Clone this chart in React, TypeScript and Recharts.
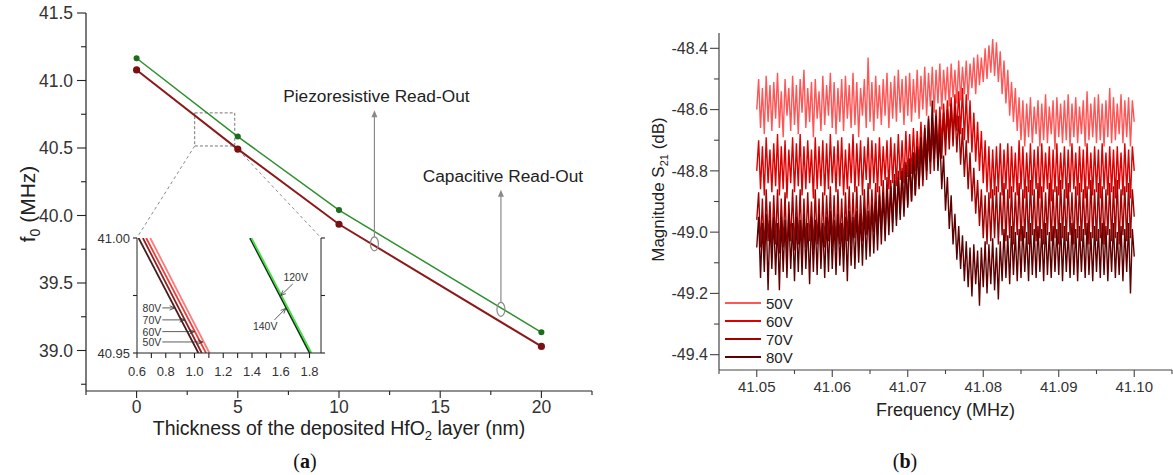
import React from 'react';
import {
  LineChart,
  Line,
  XAxis,
  YAxis,
  Legend,
  ReferenceArea,
  ReferenceLine,
  ReferenceDot,
} from 'recharts';

const SANS = '"Liberation Sans", Arial, Helvetica, sans-serif';
const SERIF = '"Liberation Serif", "Times New Roman", serif';

// ---------- (a) resonance frequency vs HfO2 thickness ----------
const thickness = [0, 5, 10, 20];
const f0Green = [41.165, 40.585, 40.04, 39.135];
const f0Red = [41.078, 40.492, 39.935, 39.03];

const thickTicks = [-2.5, 0, 2.5, 5, 7.5, 10, 12.5, 15, 17.5, 20, 22.5];
const thickLabels = [0, 5, 10, 15, 20];
const f0Ticks = [38.75, 39, 39.25, 39.5, 39.75, 40, 40.25, 40.5, 40.75, 41, 41.25, 41.5];
const f0Labels = [39, 39.5, 40, 40.5, 41, 41.5];

// read-out annotations (thickness, ellipse centre, arrow base, arrow tip)
const readOutNames = ['Piezoresistive Read-Out', 'Capacitive Read-Out'];
const readOutX = [11.75, 18];
const readOutEllipseY = [39.79, 39.305];
const readOutBaseY = [39.84, 39.36];
const readOutTipY = [40.78, 40.19];

// zoom box shown by the inset
const zoomBoxX = [2.87, 4.85];
const zoomBoxY = [40.515, 40.76];
const insetCornerX = [0.02, 9.1];
const insetCornerY = 39.836;

// ---------- inset ----------
const insetEnds = [41.0, 40.95];
const insetXTicks = [0.6, 0.7, 0.8, 0.9, 1.0, 1.1, 1.2, 1.3, 1.4, 1.5, 1.6, 1.7, 1.8];
const insetXLabels = [0.6, 0.8, 1.0, 1.2, 1.4, 1.6, 1.8];
const insetYTicks = [40.95, 40.975, 41.0];
const insetYLabels = [40.95, 41.0];

const insetRedNames = ['80V', '70V', '60V', '50V'];
const insetRedColors = ['#4a1c1c', '#8b2323', '#e8403a', '#ff7a7a'];
const insetRedTop = [0.611, 0.641, 0.664, 0.692];
const insetRedBottom = [1.027, 1.05, 1.08, 1.104];
const insetRedTagY = [40.9696, 40.9644, 40.9593, 40.9548];
const insetRedTagTip = [0.862, 0.931, 1.0, 1.058];
const insetRedTagStart = 0.776;

const insetGreenNames = ['140V', '120V'];
const insetGreenColors = ['#1c2e1c', '#45dd45'];
const insetGreenTop = [1.386, 1.396];
const insetGreenBottom = [1.801, 1.813];

// ---------- (b) transmission spectra ----------
const freqStart = 41.05;
const freqStep = 0.00025;
const freqTicks = [41.045, 41.05, 41.055, 41.06, 41.065, 41.07, 41.075, 41.08, 41.085, 41.09, 41.095, 41.1, 41.105];
const freqLabels = [41.05, 41.06, 41.07, 41.08, 41.09, 41.1];
const magTicks = [-49.4, -49.3, -49.2, -49.1, -49.0, -48.9, -48.8, -48.7, -48.6, -48.5, -48.4];
const magLabels = [-49.4, -49.2, -49.0, -48.8, -48.6, -48.4];

const voltages = ['50V', '60V', '70V', '80V'];
const voltColors = ['#ff5555', '#dd0000', '#a30000', '#5e0000'];

const mag50 = [
  -48.60, -48.50, -48.66, -48.53, -48.68, -48.49, -48.64, -48.52, -48.67, -48.51,
  -48.63, -48.48, -48.66, -48.54, -48.69, -48.50, -48.62, -48.53, -48.67, -48.49,
  -48.65, -48.52, -48.68, -48.50, -48.61, -48.47, -48.66, -48.53, -48.64, -48.51,
  -48.69, -48.50, -48.63, -48.54, -48.67, -48.49, -48.65, -48.52, -48.62, -48.48,
  -48.66, -48.51, -48.68, -48.53, -48.64, -48.50, -48.67, -48.49, -48.63, -48.52,
  -48.66, -48.48, -48.65, -48.51, -48.69, -48.53, -48.62, -48.50, -48.66, -48.43,
  -48.64, -48.51, -48.67, -48.49, -48.63, -48.52, -48.65, -48.50, -48.62, -48.48,
  -48.66, -48.51, -48.63, -48.49, -48.64, -48.47, -48.61, -48.50, -48.65, -48.49,
  -48.62, -48.48, -48.64, -48.50, -48.61, -48.47, -48.63, -48.49, -48.60, -48.46,
  -48.62, -48.48, -48.59, -48.46, -48.61, -48.47, -48.58, -48.45, -48.60, -48.47,
  -48.57, -48.46, -48.59, -48.45, -48.56, -48.47, -48.58, -48.44, -48.57, -48.46,
  -48.55, -48.44, -48.57, -48.45, -48.53, -48.43, -48.55, -48.42, -48.52, -48.43,
  -48.51, -48.40, -48.50, -48.39, -48.48, -48.37, -48.49, -48.38, -48.51, -48.41,
  -48.55, -48.44, -48.58, -48.47, -48.62, -48.51, -48.64, -48.53, -48.67, -48.56,
  -48.70, -48.57, -48.72, -48.58, -48.69, -48.56, -48.71, -48.59, -48.68, -48.57,
  -48.72, -48.58, -48.70, -48.55, -48.71, -48.59, -48.68, -48.57, -48.73, -48.56,
  -48.69, -48.58, -48.71, -48.57, -48.70, -48.55, -48.72, -48.58, -48.69, -48.56,
  -48.71, -48.59, -48.68, -48.57, -48.72, -48.54, -48.70, -48.58, -48.69, -48.56,
  -48.71, -48.55, -48.70, -48.58, -48.72, -48.57, -48.69, -48.53, -48.71, -48.56,
  -48.70, -48.58, -48.68, -48.55, -48.71, -48.57, -48.69, -48.56, -48.72, -48.57,
  -48.64,
];

const mag60 = [
  -48.80, -48.70, -48.86, -48.72, -48.88, -48.69, -48.84, -48.73, -48.87, -48.71,
  -48.85, -48.68, -48.88, -48.72, -48.86, -48.70, -48.89, -48.73, -48.84, -48.69,
  -48.87, -48.71, -48.85, -48.68, -48.88, -48.72, -48.86, -48.70, -48.84, -48.73,
  -48.89, -48.69, -48.86, -48.72, -48.85, -48.70, -48.88, -48.71, -48.86, -48.68,
  -48.84, -48.72, -48.87, -48.70, -48.85, -48.69, -48.88, -48.73, -48.86, -48.71,
  -48.84, -48.68, -48.87, -48.71, -48.85, -48.70, -48.88, -48.72, -48.83, -48.69,
  -48.86, -48.70, -48.84, -48.71, -48.87, -48.69, -48.85, -48.72, -48.83, -48.70,
  -48.86, -48.69, -48.84, -48.71, -48.85, -48.68, -48.83, -48.70, -48.84, -48.67,
  -48.82, -48.68, -48.81, -48.66, -48.80, -48.67, -48.78, -48.64, -48.79, -48.65,
  -48.76, -48.62, -48.75, -48.63, -48.73, -48.60, -48.74, -48.59, -48.71, -48.58,
  -48.70, -48.57, -48.68, -48.56, -48.69, -48.55, -48.67, -48.54, -48.68, -48.53,
  -48.70, -48.55, -48.71, -48.57, -48.74, -48.61, -48.77, -48.64, -48.80, -48.67,
  -48.84, -48.70, -48.87, -48.72, -48.89, -48.73, -48.88, -48.72, -48.87, -48.71,
  -48.88, -48.73, -48.86, -48.71, -48.89, -48.72, -48.87, -48.74, -48.88, -48.70,
  -48.86, -48.72, -48.89, -48.74, -48.87, -48.71, -48.88, -48.73, -48.86, -48.72,
  -48.89, -48.71, -48.87, -48.74, -48.86, -48.72, -48.90, -48.73, -48.87, -48.71,
  -48.88, -48.74, -48.86, -48.72, -48.89, -48.73, -48.87, -48.71, -48.86, -48.74,
  -48.88, -48.72, -48.87, -48.73, -48.89, -48.71, -48.86, -48.74, -48.88, -48.72,
  -48.87, -48.73, -48.89, -48.71, -48.86, -48.74, -48.88, -48.72, -48.87, -48.73,
  -48.89, -48.72, -48.86, -48.74, -48.88, -48.71, -48.87, -48.73, -48.89, -48.72,
  -48.80,
];

const mag70 = [
  -48.96, -48.87, -49.05, -48.89, -49.07, -48.86, -49.03, -48.90, -49.06, -48.88,
  -49.04, -48.86, -49.07, -48.89, -49.05, -48.87, -49.08, -48.90, -49.03, -48.86,
  -49.06, -48.88, -49.04, -48.86, -49.07, -48.89, -49.05, -48.87, -49.03, -48.90,
  -49.06, -48.86, -49.04, -48.89, -49.07, -48.87, -49.05, -48.88, -49.03, -48.85,
  -49.05, -48.88, -49.06, -48.86, -49.04, -48.89, -49.06, -48.87, -49.03, -48.85,
  -49.04, -48.87, -49.02, -48.85, -49.05, -48.88, -49.03, -48.86, -49.01, -48.84,
  -49.02, -48.86, -49.00, -48.84, -49.01, -48.85, -48.99, -48.83, -49.00, -48.82,
  -48.98, -48.83, -48.97, -48.81, -48.96, -48.80, -48.94, -48.79, -48.93, -48.77,
  -48.91, -48.76, -48.90, -48.74, -48.88, -48.73, -48.86, -48.71, -48.85, -48.70,
  -48.83, -48.68, -48.81, -48.66, -48.80, -48.65, -48.78, -48.63, -48.76, -48.61,
  -48.75, -48.60, -48.73, -48.58, -48.72, -48.59, -48.74, -48.62, -48.78, -48.66,
  -48.82, -48.70, -48.86, -48.74, -48.90, -48.79, -48.94, -48.83, -48.98, -48.86,
  -49.02, -48.88, -49.04, -48.87, -49.03, -48.86, -49.02, -48.85, -49.04, -48.87,
  -49.01, -48.84, -49.03, -48.86, -49.02, -48.85, -49.04, -48.87, -49.01, -48.84,
  -49.03, -48.86, -49.02, -48.85, -49.04, -48.83, -49.01, -48.86, -49.03, -48.84,
  -49.02, -48.85, -49.04, -48.87, -49.01, -48.84, -49.03, -48.86, -49.02, -48.85,
  -49.04, -48.83, -49.02, -48.86, -49.03, -48.84, -49.01, -48.87, -49.04, -48.85,
  -49.02, -48.84, -49.03, -48.86, -49.01, -48.85, -49.04, -48.83, -49.02, -48.86,
  -49.03, -48.84, -49.02, -48.85, -49.04, -48.86, -49.01, -48.84, -49.03, -48.85,
  -49.02, -48.83, -49.04, -48.86, -49.01, -48.85, -49.03, -48.84, -49.02, -48.86,
  -48.95,
];

const mag80 = [
  -49.05, -48.95, -49.15, -48.97, -49.13, -48.94, -49.19, -48.96, -49.12, -48.95,
  -49.14, -48.97, -49.19, -48.95, -49.13, -48.96, -49.15, -48.94, -49.12, -48.97,
  -49.16, -48.95, -49.13, -48.96, -49.14, -48.94, -49.12, -48.97, -49.17, -48.95,
  -49.13, -48.96, -49.14, -48.94, -49.12, -48.97, -49.15, -48.95, -49.13, -48.93,
  -49.12, -48.96, -49.14, -48.94, -49.11, -48.97, -49.13, -48.95, -49.16, -48.93,
  -49.11, -48.95, -49.12, -48.93, -49.10, -48.94, -49.11, -48.92, -49.09, -48.93,
  -49.08, -48.91, -49.07, -48.90, -49.06, -48.88, -49.04, -48.87, -49.03, -48.86,
  -49.01, -48.85, -49.00, -48.83, -48.98, -48.82, -48.96, -48.80, -48.95, -48.78,
  -48.92, -48.76, -48.90, -48.74, -48.88, -48.72, -48.85, -48.69, -48.83, -48.66,
  -48.80, -48.63, -48.77, -48.57, -48.76, -48.62, -48.80, -48.68, -48.86, -48.75,
  -48.93, -48.82, -48.99, -48.88, -49.04, -48.94, -49.09, -48.98, -49.12, -49.01,
  -49.16, -49.03, -49.18, -49.05, -49.21, -49.04, -49.17, -49.06, -49.24, -49.05,
  -49.18, -49.03, -49.20, -49.04, -49.17, -49.02, -49.19, -49.05, -49.22, -49.03,
  -49.16, -48.99, -49.15, -49.01, -49.17, -48.98, -49.14, -49.00, -49.16, -48.99,
  -49.15, -48.98, -49.13, -49.00, -49.16, -48.97, -49.14, -48.99, -49.15, -48.98,
  -49.13, -48.99, -49.16, -48.97, -49.14, -49.00, -49.15, -48.98, -49.13, -48.99,
  -49.14, -48.97, -49.16, -48.98, -49.13, -49.00, -49.15, -48.97, -49.14, -48.99,
  -49.16, -48.98, -49.13, -48.99, -49.15, -48.97, -49.14, -49.00, -49.16, -48.98,
  -49.13, -48.99, -49.15, -48.97, -49.14, -48.98, -49.16, -48.99, -49.13, -48.97,
  -49.15, -49.00, -49.14, -48.98, -49.16, -48.99, -49.13, -48.97, -49.20, -48.99,
  -49.08,
];

// tables for the charts
const thicknessData = thickness.map((t, i) => ({ t, green: f0Green[i], red: f0Red[i] }));
const spectrumData = mag50.map((v, i) => ({
  f: freqStart + i * freqStep,
  v50: v,
  v60: mag60[i],
  v70: mag70[i],
  v80: mag80[i],
}));

// generic tick: short line (major/minor) plus optional label, drawn from the axis line
function AxisTick(props: any) {
  const {
    x = 0, y = 0, payload, side, inward = false, majors = [], fmt,
    len = 8, minorLen = 4, gap = 4, fontSize = 14, color = '#333', stroke = '#333',
  } = props;
  const v = payload ? payload.value : 0;
  const isMajor = majors.some((m: number) => Math.abs(m - v) < 1e-7);
  const l = isMajor ? len : minorLen;
  const s = inward ? -1 : 1;
  let x2 = x;
  let y2 = y;
  if (side === 'bottom') y2 = y + l * s;
  if (side === 'top') y2 = y - l * s;
  if (side === 'left') x2 = x - l * s;
  if (side === 'right') x2 = x + l * s;
  let label = null;
  if (fmt && isMajor) {
    if (side === 'bottom') {
      label = (
        <text x={x} y={y + l + gap + fontSize * 0.72} textAnchor="middle" fontSize={fontSize} fontFamily={SANS} fill={color}>
          {fmt(v)}
        </text>
      );
    } else if (side === 'left') {
      label = (
        <text x={x - l - gap} y={y + fontSize * 0.36} textAnchor="end" fontSize={fontSize} fontFamily={SANS} fill={color}>
          {fmt(v)}
        </text>
      );
    }
  }
  return (
    <g>
      <line x1={x} y1={y} x2={x2} y2={y2} stroke={stroke} strokeWidth={1.1} />
      {label}
    </g>
  );
}

function ThickTitle({ viewBox }: any) {
  const { x, y, width } = viewBox;
  return (
    <text x={x + width / 2} y={y + 44} textAnchor="middle" fontSize={19.5} fontFamily={SANS} fill="#222">
      Thickness of the deposited HfO<tspan dy={5} fontSize={13}>2</tspan>
      <tspan dy={-5}> layer (nm)</tspan>
    </text>
  );
}

function F0Title({ viewBox }: any) {
  const cx = viewBox.x + 27;
  const cy = viewBox.y + viewBox.height / 2 + 2;
  return (
    <text x={cx} y={cy} dy="0.36em" transform={`rotate(-90, ${cx}, ${cy})`} textAnchor="middle" fontSize={21} fontFamily={SANS} fill="#222">
      f<tspan dy={5} fontSize={14}>0</tspan>
      <tspan dy={-5}> (MHz)</tspan>
    </text>
  );
}

function FreqTitle({ viewBox }: any) {
  const { x, y, width } = viewBox;
  return (
    <text x={x + width / 2} y={y + 46} textAnchor="middle" fontSize={18} fontFamily={SANS} fill="#222">
      Frequency (MHz)
    </text>
  );
}

function MagTitle({ viewBox }: any) {
  const cx = viewBox.x + 18;
  const cy = viewBox.y + viewBox.height / 2 - 12;
  return (
    <text x={cx} y={cy} dy="0.36em" transform={`rotate(-90, ${cx}, ${cy})`} textAnchor="middle" fontSize={17} fontFamily={SANS} fill="#222">
      Magnitude S<tspan dy={4} fontSize={11}>21</tspan>
      <tspan dy={-4}> (dB)</tspan>
    </text>
  );
}

// vertical arrow with its caption above the tip
function ReadOutArrow(props: any) {
  const { x1, y1, y2, txt } = props;
  const tip = Math.min(y1, y2);
  const base = Math.max(y1, y2);
  return (
    <g>
      <line x1={x1} y1={base} x2={x1} y2={tip + 5} stroke="#8a8a8a" strokeWidth={1.2} />
      <path d={`M${x1},${tip} L${x1 - 3},${tip + 7} L${x1 + 3},${tip + 7} Z`} fill="#8a8a8a" />
      <text x={x1 + 2} y={tip - 8} textAnchor="middle" fontSize={17.3} fontFamily={SANS} fill="#222">
        {txt}
      </text>
    </g>
  );
}

// small labelled arrow of the inset
function TagArrow(props: any) {
  const { x1, y1, x2, y2, txt, tx, ty, anchor } = props;
  const dx = x2 - x1;
  const dy = y2 - y1;
  const len = Math.hypot(dx, dy) || 1;
  const ux = dx / len;
  const uy = dy / len;
  const hx = x2 - ux * 5;
  const hy = y2 - uy * 5;
  return (
    <g>
      <line x1={x1} y1={y1} x2={x2} y2={y2} stroke="#333" strokeWidth={0.8} />
      <path
        d={`M${hx - uy * 2.2},${hy + ux * 2.2} L${x2},${y2} L${hx + uy * 2.2},${hy - ux * 2.2}`}
        fill="none"
        stroke="#333"
        strokeWidth={0.8}
      />
      <text x={x1 + tx} y={y1 + ty} textAnchor={anchor} fontSize={10.5} fontFamily={SANS} fill="#333">
        {txt}
      </text>
    </g>
  );
}

function VoltLegend(props: any) {
  const items = props.payload || [];
  return (
    <div style={{ fontFamily: SANS, fontSize: 15, color: '#222' }}>
      {items.map((it: any) => (
        <div key={it.value} style={{ display: 'flex', alignItems: 'center', height: 18 }}>
          <span style={{ display: 'inline-block', width: 36, height: 2, background: it.color, marginRight: 5 }} />
          <span>{it.value}</span>
        </div>
      ))}
    </div>
  );
}

const AX_A = '#222';
const AX_B = '#444';

function PanelA() {
  return (
    <div style={{ position: 'absolute', left: 0, top: 0 }}>
      <LineChart width={600} height={452} data={thicknessData} margin={{ top: 13, right: 8, bottom: 0, left: 0 }}>
        <XAxis
          xAxisId="b"
          dataKey="t"
          type="number"
          domain={[-2.5, 22.5]}
          allowDataOverflow
          ticks={thickTicks}
          interval={0}
          height={61}
          tickSize={0}
          tickMargin={0}
          tickLine={false}
          axisLine={{ stroke: AX_A, strokeWidth: 1.2 }}
          tick={<AxisTick side="bottom" majors={thickLabels} fmt={(v: number) => String(v)} len={7} minorLen={4} gap={2} fontSize={17.5} stroke={AX_A} />}
          label={<ThickTitle />}
        />
        <XAxis
          xAxisId="top"
          orientation="top"
          type="number"
          domain={[-2.5, 22.5]}
          allowDataOverflow
          ticks={thickTicks}
          interval={0}
          height={0}
          tickSize={0}
          tickMargin={0}
          tickLine={false}
          axisLine={{ stroke: AX_A, strokeWidth: 1.2 }}
          tick={<AxisTick side="top" inward majors={thickLabels} len={7} minorLen={5} stroke={AX_A} />}
        />
        <YAxis
          yAxisId="l"
          type="number"
          domain={[38.7, 41.5]}
          allowDataOverflow
          ticks={f0Ticks}
          interval={0}
          width={86}
          tickSize={0}
          tickMargin={0}
          tickLine={false}
          axisLine={{ stroke: AX_A, strokeWidth: 1.2 }}
          tick={<AxisTick side="left" majors={f0Labels} fmt={(v: number) => v.toFixed(1)} len={9} minorLen={5} gap={4} fontSize={17.5} stroke={AX_A} />}
          label={<F0Title />}
        />
        <YAxis
          yAxisId="r"
          orientation="right"
          type="number"
          domain={[38.7, 41.5]}
          allowDataOverflow
          ticks={f0Ticks}
          interval={0}
          width={0}
          tickSize={0}
          tickMargin={0}
          tickLine={false}
          axisLine={{ stroke: AX_A, strokeWidth: 1.2 }}
          tick={<AxisTick side="right" inward majors={f0Labels} len={6} minorLen={5} stroke={AX_A} />}
        />

        <ReferenceArea
          xAxisId="b"
          yAxisId="l"
          x1={zoomBoxX[0]}
          x2={zoomBoxX[1]}
          y1={zoomBoxY[0]}
          y2={zoomBoxY[1]}
          fill="none"
          fillOpacity={0}
          stroke="#777"
          strokeDasharray="3 2"
        />
        {zoomBoxX.map((bx, i) => (
          <ReferenceLine
            key={`zl-${i}`}
            xAxisId="b"
            yAxisId="l"
            segment={[{ x: bx, y: zoomBoxY[0] }, { x: insetCornerX[i], y: insetCornerY }]}
            stroke="#888"
            strokeDasharray="3 3"
          />
        ))}

        <Line
          xAxisId="b"
          yAxisId="l"
          dataKey="green"
          type="linear"
          stroke="#2f8f2f"
          strokeWidth={1.5}
          dot={{ r: 2.3, fill: '#1d6d1d', stroke: '#1d6d1d' }}
          isAnimationActive={false}
        />
        <Line
          xAxisId="b"
          yAxisId="l"
          dataKey="red"
          type="linear"
          stroke="#8b1a1a"
          strokeWidth={2}
          dot={{ r: 2.6, fill: '#7a1010', stroke: '#7a1010' }}
          isAnimationActive={false}
        />

        {readOutNames.map((name, i) => (
          <ReferenceLine
            key={`ro-${i}`}
            xAxisId="b"
            yAxisId="l"
            segment={[{ x: readOutX[i], y: readOutBaseY[i] }, { x: readOutX[i], y: readOutTipY[i] }]}
            shape={(p: any) => <ReadOutArrow {...p} txt={name} />}
          />
        ))}
        {readOutNames.map((name, i) => (
          <ReferenceDot
            key={`re-${i}`}
            xAxisId="b"
            yAxisId="l"
            x={readOutX[i]}
            y={readOutEllipseY[i]}
            shape={(p: any) => (
              <ellipse cx={p.cx} cy={p.cy} rx={4} ry={7} fill="none" stroke="#8a8a8a" strokeWidth={1.2} />
            )}
          />
        ))}
      </LineChart>
    </div>
  );
}

function Inset() {
  const redSets = insetRedNames.map((n, i) => ({
    name: n,
    color: insetRedColors[i],
    data: [
      { x: insetRedTop[i], y: insetEnds[0] },
      { x: insetRedBottom[i], y: insetEnds[1] },
    ],
  }));
  const greenSets = insetGreenNames.map((n, i) => ({
    name: n,
    color: insetGreenColors[i],
    data: [
      { x: insetGreenTop[i], y: insetEnds[0] },
      { x: insetGreenBottom[i], y: insetEnds[1] },
    ],
  }));
  return (
    <div style={{ position: 'absolute', left: 87, top: 225 }}>
      <LineChart width={240} height={160} margin={{ top: 13, right: 0, bottom: 0, left: 0 }}>
        <XAxis
          xAxisId="b"
          dataKey="x"
          type="number"
          domain={[0.6, 1.88]}
          allowDataOverflow
          ticks={insetXTicks}
          interval={0}
          height={32}
          tickSize={0}
          tickMargin={0}
          tickLine={false}
          axisLine={{ stroke: AX_A, strokeWidth: 1 }}
          tick={<AxisTick side="bottom" majors={insetXTicks} fmt={(v: number) => (insetXLabels.some((m) => Math.abs(m - v) < 1e-7) ? v.toFixed(1) : '')} len={5} minorLen={5} gap={9} fontSize={13} stroke={AX_A} />}
        />
        <XAxis
          xAxisId="top"
          orientation="top"
          dataKey="x"
          type="number"
          domain={[0.6, 1.88]}
          allowDataOverflow
          ticks={insetXTicks}
          interval={0}
          height={0}
          tickSize={0}
          tickMargin={0}
          tickLine={false}
          axisLine={{ stroke: AX_A, strokeWidth: 1 }}
          tick={<AxisTick side="top" inward majors={insetXTicks} len={5} minorLen={5} stroke={AX_A} />}
        />
        <YAxis
          yAxisId="l"
          type="number"
          domain={[40.95, 41.0]}
          allowDataOverflow
          ticks={insetYTicks}
          interval={0}
          width={50}
          tickSize={0}
          tickMargin={0}
          tickLine={false}
          axisLine={{ stroke: AX_A, strokeWidth: 1 }}
          tick={<AxisTick side="left" majors={insetYLabels} fmt={(v: number) => v.toFixed(2)} len={4} minorLen={4} gap={3} fontSize={13} stroke={AX_A} />}
        />
        <YAxis
          yAxisId="r"
          orientation="right"
          type="number"
          domain={[40.95, 41.0]}
          allowDataOverflow
          ticks={insetYTicks}
          interval={0}
          width={6}
          tickSize={0}
          tickMargin={0}
          tickLine={false}
          axisLine={{ stroke: AX_A, strokeWidth: 1 }}
          tick={<AxisTick side="right" majors={[]} len={4} minorLen={4} stroke={AX_A} />}
        />
        {[...redSets, ...greenSets].map((s) => (
          <Line
            key={s.name}
            xAxisId="b"
            yAxisId="l"
            data={s.data}
            dataKey="y"
            type="linear"
            stroke={s.color}
            strokeWidth={1.8}
            dot={false}
            isAnimationActive={false}
          />
        ))}
        {insetRedNames.map((n, i) => (
          <ReferenceLine
            key={`tag-${n}`}
            xAxisId="b"
            yAxisId="l"
            segment={[{ x: insetRedTagStart, y: insetRedTagY[i] }, { x: insetRedTagTip[i], y: insetRedTagY[i] }]}
            shape={(p: any) => <TagArrow {...p} txt={n} tx={-1} ty={4} anchor="end" />}
          />
        ))}
        <ReferenceLine
          xAxisId="b"
          yAxisId="l"
          segment={[{ x: 1.683, y: 40.98 }, { x: 1.6, y: 40.975 }]}
          shape={(p: any) => <TagArrow {...p} txt="120V" tx={3} ty={-3} anchor="middle" />}
        />
        <ReferenceLine
          xAxisId="b"
          yAxisId="l"
          segment={[{ x: 1.556, y: 40.9644 }, { x: 1.635, y: 40.9694 }]}
          shape={(p: any) => <TagArrow {...p} txt="140V" tx={3} ty={10.5} anchor="end" />}
        />
      </LineChart>
    </div>
  );
}

function PanelB() {
  const keys = ['v50', 'v60', 'v70', 'v80'];
  return (
    <div style={{ position: 'absolute', left: 640, top: 0 }}>
      <LineChart width={533} height={440} data={spectrumData} margin={{ top: 33, right: 1, bottom: 0, left: 0 }}>
        <XAxis
          xAxisId="b"
          dataKey="f"
          type="number"
          domain={[41.045, 41.105]}
          allowDataOverflow
          ticks={freqTicks}
          interval={0}
          height={70}
          tickSize={0}
          tickMargin={0}
          tickLine={false}
          axisLine={{ stroke: AX_B, strokeWidth: 1.2 }}
          tick={<AxisTick side="bottom" majors={freqLabels} fmt={(v: number) => v.toFixed(2)} len={7} minorLen={4} gap={4} fontSize={15} color="#333" stroke={AX_B} />}
          label={<FreqTitle />}
        />
        <XAxis
          xAxisId="top"
          orientation="top"
          dataKey="f"
          type="number"
          domain={[41.045, 41.105]}
          allowDataOverflow
          ticks={freqTicks}
          interval={0}
          height={0}
          tickSize={0}
          tickMargin={0}
          tickLine={false}
          axisLine={{ stroke: AX_B, strokeWidth: 1.2 }}
          tick={<AxisTick side="top" inward majors={freqLabels} len={6} minorLen={4} stroke={AX_B} />}
        />
        <YAxis
          yAxisId="l"
          type="number"
          domain={[-49.45, -48.35]}
          allowDataOverflow
          ticks={magTicks}
          interval={0}
          width={79}
          tickSize={0}
          tickMargin={0}
          tickLine={false}
          axisLine={{ stroke: AX_B, strokeWidth: 1.2 }}
          tick={<AxisTick side="left" majors={magLabels} fmt={(v: number) => v.toFixed(1)} len={9} minorLen={5} gap={2} fontSize={16} color="#333" stroke={AX_B} />}
          label={<MagTitle />}
        />
        <YAxis
          yAxisId="r"
          orientation="right"
          type="number"
          domain={[-49.45, -48.35]}
          allowDataOverflow
          ticks={magTicks}
          interval={0}
          width={0}
          tickSize={0}
          tickMargin={0}
          tickLine={false}
          axisLine={{ stroke: AX_B, strokeWidth: 1.2 }}
          tick={<AxisTick side="right" inward majors={magLabels} len={6} minorLen={5} stroke={AX_B} />}
        />
        {keys.map((k, i) => (
          <Line
            key={k}
            xAxisId="b"
            yAxisId="l"
            dataKey={k}
            name={voltages[i]}
            type="linear"
            stroke={voltColors[i]}
            strokeWidth={1.4}
            dot={false}
            isAnimationActive={false}
          />
        ))}
        <Legend
          layout="vertical"
          align="center"
          verticalAlign="middle"
          content={<VoltLegend />}
          wrapperStyle={{ left: 85, top: 294, width: 80 }}
        />
      </LineChart>
    </div>
  );
}

function Caption({ letter, x }: { letter: string; x: number }) {
  return (
    <div
      style={{
        position: 'absolute',
        left: x - 30,
        top: 450,
        width: 60,
        textAlign: 'center',
        fontFamily: SERIF,
        fontSize: 20,
        color: '#111',
      }}
    >
      (<b>{letter}</b>)
    </div>
  );
}

export default function App() {
  return (
    <div style={{ position: 'absolute', left: 0, top: 0, width: 1173, height: 475, background: '#fff', overflow: 'hidden' }}>
      <PanelA />
      <Inset />
      <PanelB />
      <Caption letter="a" x={305} />
      <Caption letter="b" x={905} />
    </div>
  );
}
